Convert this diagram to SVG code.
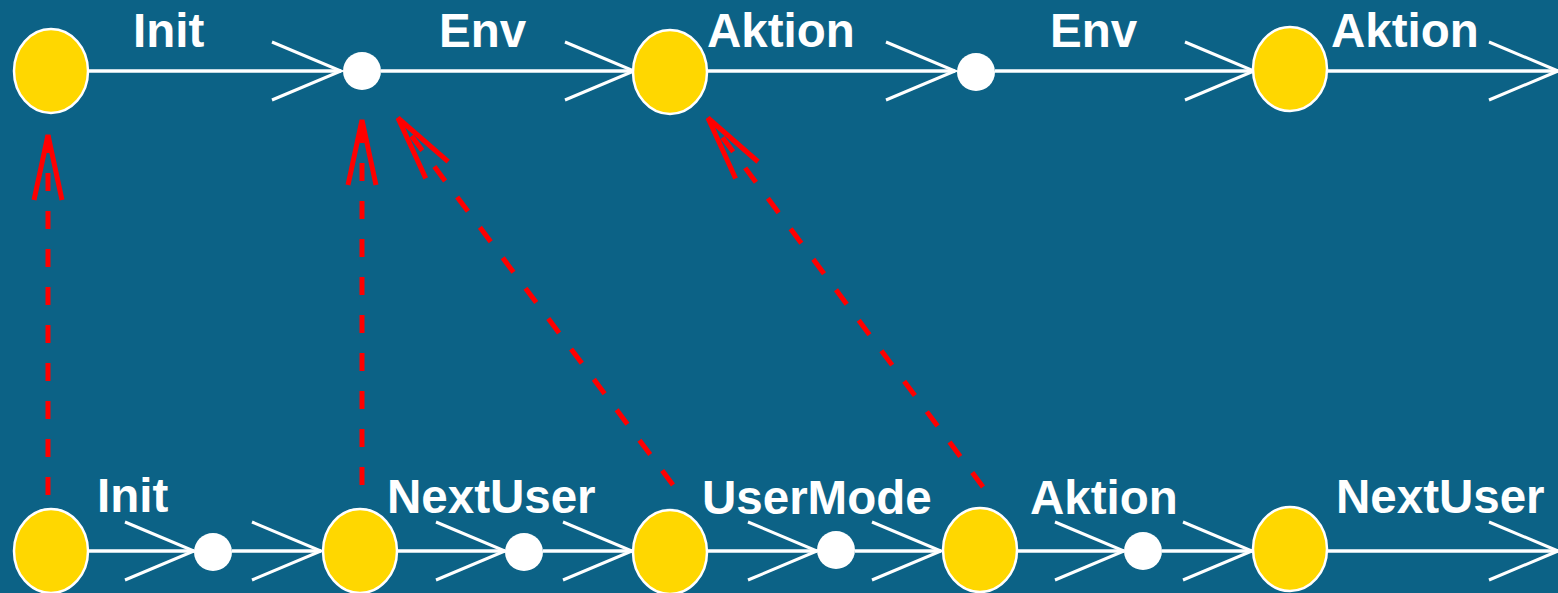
<svg xmlns="http://www.w3.org/2000/svg" width="1558" height="593" viewBox="0 0 1558 593">
<style>
.st{fill:#FFD700;stroke:#fff;stroke-width:2.5}
.dot{fill:#fff}
.e{stroke:#fff;stroke-width:3.5;fill:none}
.r{stroke:#f00;stroke-width:5;fill:none;stroke-dasharray:18 20}
.lb{font-family:"Liberation Sans",Arial,sans-serif;font-weight:bold;font-size:47.5px;fill:#fff}
</style>
<defs>
<marker id="wh" markerUnits="userSpaceOnUse" orient="auto" refX="0" refY="0" markerWidth="1" markerHeight="1" overflow="visible">
<path d="M-69,-29 L0,0 L-69,29" fill="none" stroke="#fff" stroke-width="3"/>
</marker>
<marker id="rd" markerUnits="userSpaceOnUse" orient="auto" refX="0" refY="0" markerWidth="1" markerHeight="1" overflow="visible">
<path d="M-65,-14 L0,0 L-65,14" fill="none" stroke="#f00" stroke-width="5"/>
</marker>
</defs>
<rect width="1558" height="593" fill="#0C6286"/>
<g id="connectors">
<line class="e" x1="88" y1="71" x2="341" y2="71" marker-end="url(#wh)"/>
<line class="e" x1="381" y1="71" x2="634" y2="71" marker-end="url(#wh)"/>
<line class="e" x1="707" y1="71" x2="955" y2="71" marker-end="url(#wh)"/>
<line class="e" x1="995" y1="71" x2="1254" y2="71" marker-end="url(#wh)"/>
<line class="e" x1="1327" y1="71" x2="1558" y2="71" marker-end="url(#wh)"/>
<line class="e" x1="88" y1="551" x2="194" y2="551" marker-end="url(#wh)"/>
<line class="e" x1="232" y1="551" x2="321" y2="551" marker-end="url(#wh)"/>
<line class="e" x1="397" y1="551" x2="505" y2="551" marker-end="url(#wh)"/>
<line class="e" x1="543" y1="551" x2="632" y2="551" marker-end="url(#wh)"/>
<line class="e" x1="707" y1="551" x2="817" y2="551" marker-end="url(#wh)"/>
<line class="e" x1="855" y1="551" x2="941" y2="551" marker-end="url(#wh)"/>
<line class="e" x1="1017" y1="551" x2="1124" y2="551" marker-end="url(#wh)"/>
<line class="e" x1="1162" y1="551" x2="1252" y2="551" marker-end="url(#wh)"/>
<line class="e" x1="1327" y1="551" x2="1558" y2="551" marker-end="url(#wh)"/>
<line class="r" x1="48" y1="495" x2="48" y2="135" marker-end="url(#rd)"/>
<line class="r" x1="362" y1="485" x2="362" y2="120" marker-end="url(#rd)"/>
<line class="r" x1="673" y1="485" x2="398" y2="118" marker-end="url(#rd)"/>
<line class="r" x1="983" y1="487" x2="708" y2="118" marker-end="url(#rd)"/>
</g>
<g id="t1"><ellipse class="st" cx="51" cy="71" rx="37" ry="42"/></g>
<g id="t2"><circle class="dot" cx="362" cy="71" r="19"/></g>
<g id="t3"><ellipse class="st" cx="670" cy="72" rx="37" ry="42"/></g>
<g id="t4"><circle class="dot" cx="976" cy="72" r="19"/></g>
<g id="t5"><ellipse class="st" cx="1290" cy="69" rx="37" ry="42"/></g>
<g id="b1"><ellipse class="st" cx="51" cy="551" rx="37" ry="42"/></g>
<g id="b2"><circle class="dot" cx="213" cy="552" r="19"/></g>
<g id="b3"><ellipse class="st" cx="360" cy="551" rx="37" ry="42"/></g>
<g id="b4"><circle class="dot" cx="524" cy="552" r="19"/></g>
<g id="b5"><ellipse class="st" cx="670" cy="552" rx="37" ry="42"/></g>
<g id="b6"><circle class="dot" cx="836" cy="550" r="19"/></g>
<g id="b7"><ellipse class="st" cx="980" cy="550" rx="37" ry="42"/></g>
<g id="b8"><circle class="dot" cx="1143" cy="551" r="19"/></g>
<g id="b9"><ellipse class="st" cx="1290" cy="549" rx="37" ry="42"/></g>
<g id="labels">
<text class="lb" x="133" y="47">Init</text>
<text class="lb" x="439" y="47">Env</text>
<text class="lb" x="707" y="47">Aktion</text>
<text class="lb" x="1050" y="47">Env</text>
<text class="lb" x="1331" y="47">Aktion</text>
<text class="lb" x="97" y="512">Init</text>
<text class="lb" x="387" y="513">NextUser</text>
<text class="lb" x="702" y="514">UserMode</text>
<text class="lb" x="1030" y="514">Aktion</text>
<text class="lb" x="1336" y="513">NextUser</text>
</g>
</svg>
